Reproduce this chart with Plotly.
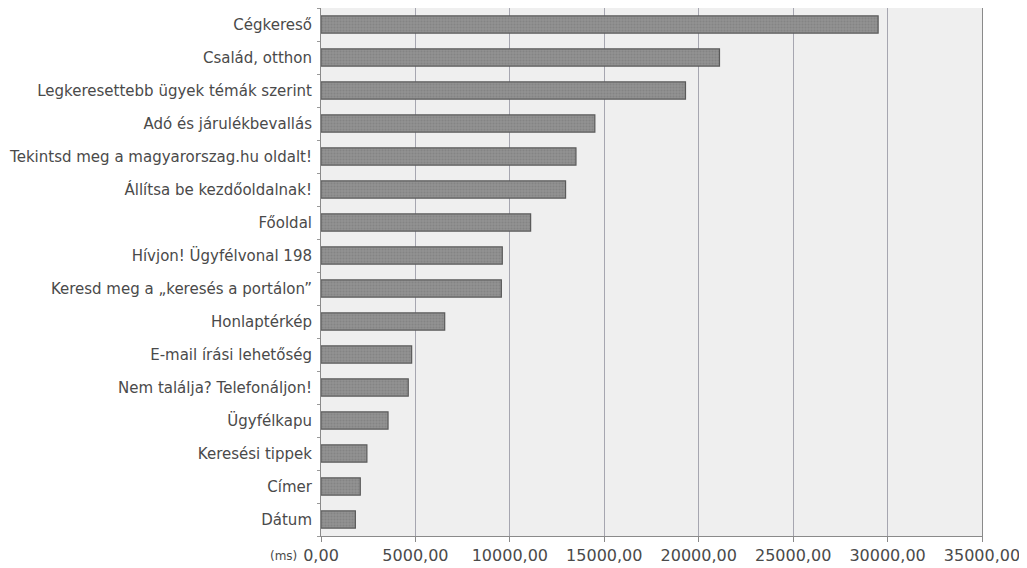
import plotly.graph_objects as go

categories = [
    "Cégkereső",
    "Család, otthon",
    "Legkeresettebb ügyek témák szerint",
    "Adó és járulékbevallás",
    "Tekintsd meg a magyarorszag.hu oldalt!",
    "Állítsa be kezdőoldalnak!",
    "Főoldal",
    "Hívjon! Ügyfélvonal 198",
    "Keresd meg a „keresés a portálon”",
    "Honlaptérkép",
    "E-mail írási lehetőség",
    "Nem találja? Telefonáljon!",
    "Ügyfélkapu",
    "Keresési tippek",
    "Címer",
    "Dátum",
]
values_ms = [29500, 21100, 19300, 14500, 13500, 12950, 11100, 9600, 9550,
             6550, 4800, 4620, 3550, 2430, 2080, 1820]

tick_values = [0, 5000, 10000, 15000, 20000, 25000, 30000, 35000]
tick_labels = ["0,00", "5000,00", "10000,00", "15000,00", "20000,00",
               "25000,00", "30000,00", "35000,00"]
unit_label = "(ms)"

fig = go.Figure()
fig.add_trace(go.Bar(
    x=values_ms,
    y=categories,
    orientation="h",
    width=0.52,
    marker=dict(
        color="#8a8a8a",
        line=dict(color="#5a5a5a", width=1.2),
        pattern=dict(shape=".", size=3, solidity=0.35,
                     fgcolor="#767676", bgcolor="#929292"),
    ),
    hoverinfo="x+y",
))

font_family = "DejaVu Sans, Verdana, sans-serif"

fig.update_layout(
    width=1027,
    height=568,
    margin=dict(l=313, r=53, t=0, b=40),
    paper_bgcolor="white",
    plot_bgcolor="#efefef",
    showlegend=False,
    font=dict(family=font_family, size=15, color="#4a4a4a"),
    xaxis=dict(
        range=[0, 35000],
        tickmode="array",
        tickvals=tick_values,
        ticktext=tick_labels,
        showgrid=True,
        gridcolor="#a6a6b0",
        gridwidth=1,
        zeroline=False,
        showline=True,
        linecolor="#8a8a8a",
        linewidth=1,
        mirror=True,
        ticks="outside",
        ticklen=5,
        tickcolor="#8a8a8a",
        tickfont=dict(size=16, color="#4a4a4a"),
        automargin=False,
    ),
    yaxis=dict(
        categoryorder="array",
        categoryarray=categories[::-1],
        autorange=True,
        showgrid=False,
        showline=True,
        linecolor="#8a8a8a",
        linewidth=1,
        mirror=True,
        ticks="outside",
        tickson="boundaries",
        ticklen=3,
        tickcolor="#999999",
        ticklabelstandoff=5,
        tickfont=dict(size=15, color="#4a4a4a"),
        automargin=False,
    ),
)

fig.add_annotation(
    x=0, y=0, xref="x", yref="paper",
    text=unit_label, showarrow=False,
    xanchor="right", yanchor="top",
    xshift=-22, yshift=-11,
    font=dict(size=12, color="#4a4a4a", family=font_family),
)

fig.write_html("out.html")
